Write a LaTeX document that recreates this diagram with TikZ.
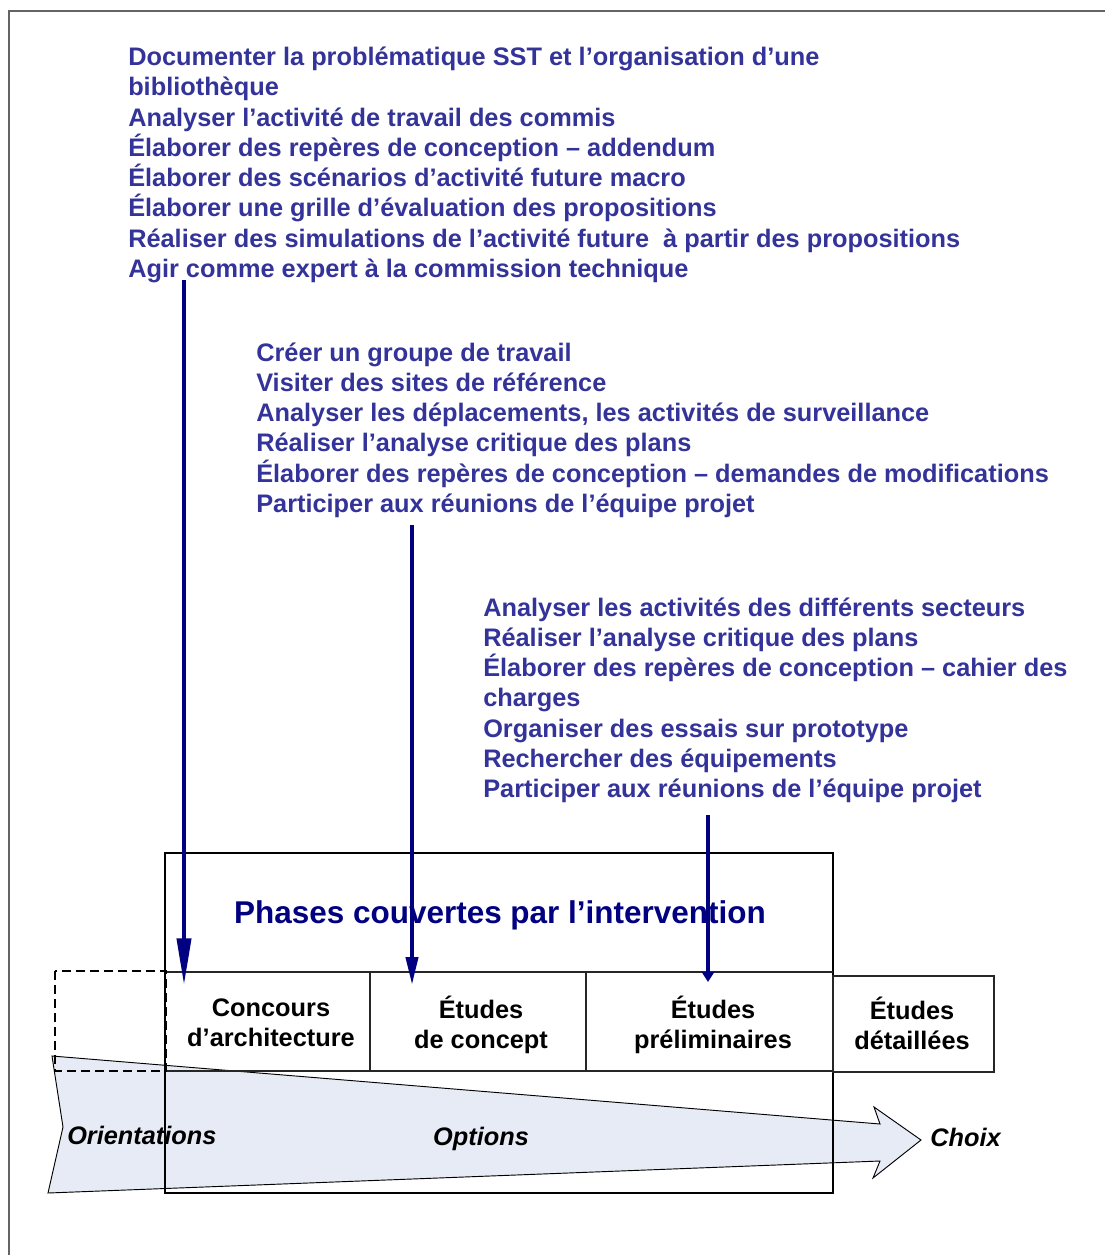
\documentclass[tikz,border=0pt]{standalone}
\usepackage{fontspec}
\setmainfont{Liberation Sans}
\usetikzlibrary{arrows.meta}
\definecolor{listblue}{RGB}{51,51,153}
\definecolor{navyc}{RGB}{0,0,128}
\definecolor{wedgefill}{RGB}{230,235,245}
\definecolor{framegray}{RGB}{100,100,100}
\tikzset{
  item/.style={anchor=base west, inner sep=0pt, text=listblue, font=\fontsize{19}{22}\selectfont\bfseries},
  phase/.style={align=center, inner sep=0pt, font=\fontsize{19}{22.5}\selectfont\bfseries},
  flow/.style={line width=3pt, draw=navyc},
  lbl/.style={inner sep=0pt, font=\fontsize{19}{22}\selectfont\bfseries\itshape},
  boxline/.style={line width=1.1pt, draw=black},
  thinline/.style={line width=0.8pt, draw=black!85},
}
\begin{document}
\begin{tikzpicture}[x=0.75pt,y=-0.75pt]
\useasboundingbox (0,0) rectangle (1104,1255);
% outer frame
\draw[framegray, line width=1.2pt] (9,1270) -- (9,11) -- (1120,11);

% text block 1
\foreach [count=\i] \t in {
  Documenter la problématique SST et l’organisation d’une,
  bibliothèque,
  Analyser l’activité de travail des commis,
  Élaborer des repères de conception – addendum,
  Élaborer des scénarios d’activité future macro,
  Élaborer une grille d’évaluation des propositions,
  Réaliser des simulations de l’activité future \ à partir des propositions,
  Agir comme expert à la commission technique}
  \node[item] (a\i) at (128,{65.5+30.3*(\i-1)}) {\t};

% text block 2
\foreach [count=\i] \t in {
  Créer un groupe de travail,
  Visiter des sites de référence,
  {Analyser les déplacements, les activités de surveillance},
  Réaliser l’analyse critique des plans,
  Élaborer des repères de conception – demandes de modifications,
  Participer aux réunions de l’équipe projet}
  \node[item] (b\i) at (256,{361+30.3*(\i-1)}) {\t};

% text block 3
\foreach [count=\i] \t in {
  Analyser les activités des différents secteurs,
  Réaliser l’analyse critique des plans,
  Élaborer des repères de conception – cahier des,
  charges,
  Organiser des essais sur prototype,
  Rechercher des équipements,
  Participer aux réunions de l’équipe projet}
  \node[item] (c\i) at (483,{616+30.3*(\i-1)}) {\t};

% wedge arrow (background)
\draw[fill=wedgefill, line width=0.7pt] (52,1056) -- (880,1124) -- (874,1107) -- (921,1140)
  -- (873,1178) -- (880,1161) -- (48,1193) -- (63,1127) -- cycle;

% boxes
\draw[boxline] (165,853) rectangle (833,1193);
\draw[thinline] (165,972) -- (833,972);
\draw[thinline] (165,1071) -- (833,1071);
\draw[thinline] (370,972) -- (370,1071);
\draw[thinline] (586,972) -- (586,1071);
\draw[thinline] (833,976) rectangle (994,1072);
\draw[dashed, dash pattern=on 7pt off 3.5pt, line width=1.5pt] (55,971) rectangle (166,1071);

% title
\node[inner sep=0pt, text=navyc, font=\fontsize{23.6}{26}\selectfont\bfseries] (title) at (500,915) {Phases couvertes par l’intervention};

% phase labels
\node[phase] (p1) at (271,1023) {Concours\\d’architecture};
\node[phase] (p2) at (481,1025) {Études\\de concept};
\node[phase] (p3) at (713,1025) {Études\\préliminaires};
\node[phase] (p4) at (912,1023) {Études\\détaillées};

% wedge labels
\node[lbl, anchor=west] (o1) at (67,1135) {Orientations};
\node[lbl] (o2) at (481,1139) {Options};
\node[lbl, anchor=west] (o3) at (930,1137) {Choix};

% flow arrows
\coordinate (s1) at (184,280);
\coordinate (e1) at (184,985);
\coordinate (s2) at (412,525);
\coordinate (e2) at (412,985);
\coordinate (s3) at (708,815);
\coordinate (e3) at (708,982);
\draw[flow, -{Triangle[length=35pt,width=10.5pt,fill=navyc]}] (s1) -- (e1);
\draw[flow, -{Triangle[length=21pt,width=9pt,fill=navyc]}] (s2) -- (e2);
\draw[flow, -{Triangle[length=7.5pt,width=9pt,fill=navyc]}] (s3) -- (e3);
\end{tikzpicture}
\end{document}
